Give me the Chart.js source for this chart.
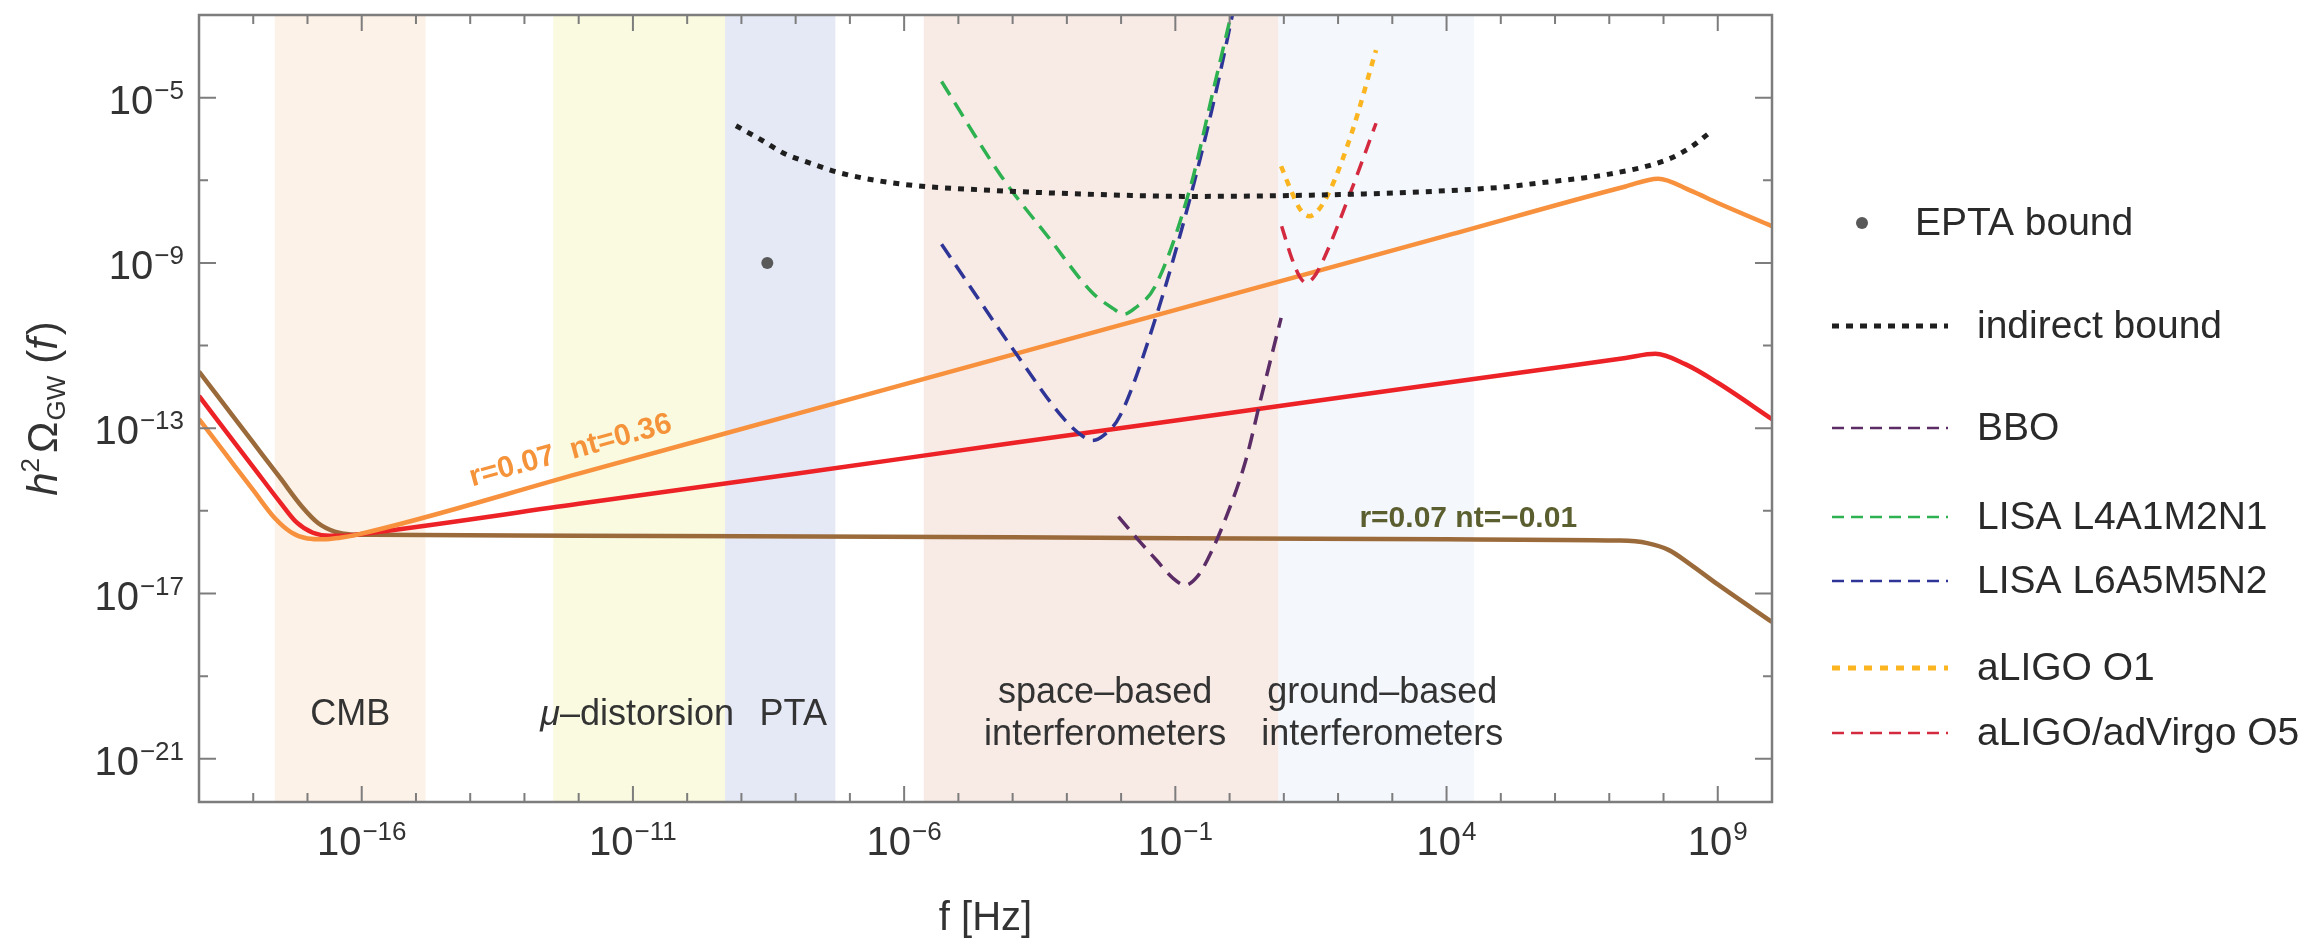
<!DOCTYPE html>
<html>
<head>
<meta charset="utf-8">
<script src="https://cdn.jsdelivr.net/npm/chart.js@4.4.1/dist/chart.umd.min.js"></script>
<style>
  body { margin: 0; background: #ffffff; }
  #wrap { width: 2310px; height: 938px; }
</style>
</head>
<body>
<div id="wrap"><canvas id="chartGW" width="2310" height="938"></canvas></div>
<script>
// ================================
// DATOS (log10 f [Hz], log10 h^2 Omega_GW)
// ================================

// r=0.07 nt=0.36 (naranja)
const logfOrange     = [-19, -18.5, -18, -17.6, -17.3, -17.0, -16.7, -16.4, -16.1, -12, -8, -4, 0, 4, 7.3, 7.9, 8.5, 9, 10];
const logOmegaOrange = [-12.78, -13.64, -14.5, -15.18, -15.52, -15.67, -15.69, -15.65, -15.58, -14.1, -12.66, -11.22, -9.78, -8.34, -7.15, -6.96, -7.25, -7.55, -8.11];

// rojo
const logfRed     = [-19, -18.5, -18, -17.5, -17.2, -16.9, -16.6, -16.3, -16.0, -12, -8, -4, 0, 4, 7.3, 7.85, 8.4, 9, 10];
const logOmegaRed = [-12.22, -13.08, -13.94, -14.8, -15.28, -15.53, -15.6, -15.6, -15.56, -14.83, -14.1, -13.36, -12.63, -11.9, -11.3, -11.2, -11.45, -11.9, -12.78];

// r=0.07 nt=-0.01 (marron)
const logfBrown     = [-19, -18.5, -18, -17.5, -17.1, -16.8, -16.5, -16.2, -15.8, -12, -4, 4, 7.2, 7.7, 8.1, 8.5, 9, 10];
const logOmegaBrown = [-11.63, -12.49, -13.35, -14.21, -14.9, -15.3, -15.5, -15.57, -15.58, -15.6, -15.64, -15.69, -15.72, -15.78, -15.95, -16.3, -16.78, -17.69];

// indirect bound
const logfIndirect     = [-9.1, -8.6, -8.23, -7.7, -7.19, -6, -4.6, -2, -0.72, 1.5, 3.15, 5.0, 5.74, 7.0, 8.07, 8.5, 8.84];
const logOmegaIndirect = [-5.68, -6.05, -6.34, -6.6, -6.82, -7.1, -7.23, -7.36, -7.39, -7.36, -7.3, -7.17, -7.06, -6.85, -6.5, -6.2, -5.86];

// BBO
const logfBBO     = [-2.05, -1.7, -1.35, -1.05, -0.82, -0.6, -0.41, -0.06, 0.3, 0.57, 0.95];
const logOmegaBBO = [-15.14, -15.68, -16.19, -16.62, -16.8, -16.6, -16.19, -15.14, -13.77, -12.32, -10.33];

// LISA L4A1M2N1
const logfLisa1     = [-5.31, -4.21, -3.31, -2.53, -2.15, -1.95, -1.75, -1.37, -0.72, -0.27, 0.1];
const logOmegaLisa1 = [-4.61, -6.9, -8.43, -9.72, -10.1, -10.24, -10.1, -9.56, -7.15, -4.65, -2.6];

// LISA L6A5M5N2
const logfLisa2     = [-5.31, -3.95, -3.05, -2.7, -2.53, -2.3, -2.02, -1.37, -0.72, -0.27, 0.1];
const logOmegaLisa2 = [-8.55, -11.17, -12.78, -13.2, -13.3, -13.15, -12.7, -10.36, -7.39, -4.97, -2.7];

// aLIGO O1
const logfO1     = [0.95, 1.15, 1.3, 1.47, 1.65, 1.86, 2.25, 2.7];
const logOmegaO1 = [-6.66, -7.3, -7.7, -7.87, -7.7, -7.22, -5.86, -3.85];

// aLIGO/adVirgo O5
const logfO5     = [0.96, 1.15, 1.3, 1.41, 1.55, 1.73, 2.25, 2.7];
const logOmegaO5 = [-8.11, -8.9, -9.35, -9.48, -9.35, -8.92, -7.22, -5.62];

// EPTA bound
const eptaF     = [3e-9];
const eptaOmega = [1e-9];

// bandas de frecuencia [Hz]
const bandNames = [["CMB"], ["\u03bc\u2013distorsion"], ["PTA"], ["space\u2013based", "interferometers"], ["ground\u2013based", "interferometers"]];
const bandFrom  = [2.5e-18, 3.4e-13, 5e-10, 2.3e-6, 8];
const bandTo    = [1.5e-15, 5e-10, 5.4e-8, 8, 3.2e4];
const bandColors = ["#fdf2e7", "#fafae0", "#e5e9f5", "#f8ebe6", "#f4f8fd"];
const bandLabelDx = [0, -2, 13, 4, 6];   // desplazamiento del texto (px)

// marcas de los ejes (exponentes)
const xTickExps = [-16, -11, -6, -1, 4, 9];
const yTickExps = [-5, -9, -13, -17, -21];

const FONT = '"Liberation Sans", Arial, sans-serif';

function pts(lf, lo) {
    return lf.map((v, i) => ({ x: Math.pow(10, v), y: Math.pow(10, lo[i]) }));
}

// texto con trozos de distinta fuente (superindices, subindices)
function drawRich(ctx, parts, x, y, align) {
    let w = 0;
    parts.forEach(p => { ctx.font = p.font; p.w = ctx.measureText(p.text).width; w += p.w + (p.gap || 0); });
    let cx = align === "right" ? x - w : align === "center" ? x - w / 2 : x;
    ctx.textAlign = "left";
    parts.forEach(p => {
        ctx.font = p.font;
        ctx.fillText(p.text, cx, y + (p.dy || 0));
        cx += p.w + (p.gap || 0);
    });
}

function powParts(exp) {
    const sup = exp < 0 ? "\u2212" + Math.abs(exp) : String(exp);
    return [
        { text: "10", font: "40px " + FONT, gap: 1 },
        { text: sup, font: "26px " + FONT, dy: -15 }
    ];
}

// estilo de las lineas de la leyenda
const legendRows = [
    { label: "EPTA bound", y: 223 },
    { label: "indirect bound", y: 326, width: 5, dash: [7, 7] },
    { label: "BBO", y: 428, width: 2.5, dash: [12, 7] },
    { label: "LISA L4A1M2N1", y: 517, width: 2.5, dash: [12, 7] },
    { label: "LISA L6A5M5N2", y: 581, width: 2.5, dash: [12, 7] },
    { label: "aLIGO O1", y: 668, width: 5, dash: [8, 8] },
    { label: "aLIGO/adVirgo O5", y: 733, width: 2.5, dash: [12, 7] }
];

// ================================
// PLUGIN: bandas, marco, ejes y leyenda
// ================================
const gwDecor = {
    id: "gwDecor",
    beforeDatasetsDraw(chart) {
        const { ctx, chartArea: a, scales: { x } } = chart;
        ctx.save();
        bandFrom.forEach((f0, i) => {
            const x0 = x.getPixelForValue(f0), x1 = x.getPixelForValue(bandTo[i]);
            ctx.fillStyle = bandColors[i];
            ctx.fillRect(x0, a.top, x1 - x0, a.bottom - a.top);
        });
        ctx.fillStyle = "#333333";
        ctx.textBaseline = "alphabetic";
        bandNames.forEach((lines, i) => {
            const cx = (x.getPixelForValue(bandFrom[i]) + x.getPixelForValue(bandTo[i])) / 2 + bandLabelDx[i];
            const base = lines.length === 1 ? [a.bottom - 77] : [a.bottom - 99, a.bottom - 57];
            lines.forEach((t, k) => {
                if (t.startsWith("\u03bc")) {
                    drawRich(ctx, [
                        { text: "\u03bc", font: "italic 36px " + FONT },
                        { text: t.slice(1), font: "36px " + FONT }
                    ], cx, base[k], "center");
                } else {
                    drawRich(ctx, [{ text: t, font: "36px " + FONT }], cx, base[k], "center");
                }
            });
        });
        ctx.restore();
    },
    afterDatasetsDraw(chart) {
        const { ctx, chartArea: a, scales: { x, y } } = chart;
        ctx.save();

        // marco
        ctx.strokeStyle = "#7d7d7d";
        ctx.lineWidth = 2.5;
        ctx.strokeRect(a.left, a.top, a.right - a.left, a.bottom - a.top);

        // marcas hacia dentro
        ctx.lineWidth = 2;
        ctx.beginPath();
        for (let e = -18; e <= 9; e++) {
            const px = x.getPixelForValue(Math.pow(10, e));
            const len = xTickExps.includes(e) ? 16 : 9;
            ctx.moveTo(px, a.bottom); ctx.lineTo(px, a.bottom - len);
            ctx.moveTo(px, a.top); ctx.lineTo(px, a.top + len);
        }
        for (let e = -21; e <= -5; e += 2) {
            const py = y.getPixelForValue(Math.pow(10, e));
            const len = yTickExps.includes(e) ? 17 : 9;
            ctx.moveTo(a.left, py); ctx.lineTo(a.left + len, py);
            ctx.moveTo(a.right, py); ctx.lineTo(a.right - len, py);
        }
        ctx.stroke();

        // etiquetas de las marcas
        ctx.fillStyle = "#333333";
        ctx.textBaseline = "alphabetic";
        xTickExps.forEach(e => {
            drawRich(ctx, powParts(e), x.getPixelForValue(Math.pow(10, e)), a.bottom + 53, "center");
        });
        yTickExps.forEach(e => {
            drawRich(ctx, powParts(e), a.left - 15, y.getPixelForValue(Math.pow(10, e)) + 16, "right");
        });

        // titulos de los ejes
        drawRich(ctx, [{ text: "f [Hz]", font: "40px " + FONT }], (a.left + a.right) / 2, a.bottom + 128, "center");
        ctx.save();
        ctx.translate(57, (a.top + a.bottom) / 2);
        ctx.rotate(-Math.PI / 2);
        drawRich(ctx, [
            { text: "h", font: "italic 42px " + FONT },
            { text: "2", font: "26px " + FONT, dy: -18, gap: 5 },
            { text: "\u03a9", font: "42px " + FONT, gap: 1 },
            { text: "GW", font: "26px " + FONT, dy: 8, gap: 12 },
            { text: "(", font: "42px " + FONT },
            { text: "f", font: "italic 42px " + FONT, gap: 3 },
            { text: ")", font: "42px " + FONT }
        ], 0, 0, "center");
        ctx.restore();

        // etiquetas de las curvas
        const i0 = logfOrange.indexOf(-12), i1 = logfOrange.indexOf(4);
        const ang = Math.atan2(
            y.getPixelForValue(Math.pow(10, logOmegaOrange[i1])) - y.getPixelForValue(Math.pow(10, logOmegaOrange[i0])),
            x.getPixelForValue(Math.pow(10, logfOrange[i1])) - x.getPixelForValue(Math.pow(10, logfOrange[i0])));
        ctx.save();
        ctx.translate(x.getPixelForValue(Math.pow(10, -12.15)), y.getPixelForValue(Math.pow(10, -13.55)));
        ctx.rotate(ang);
        ctx.fillStyle = "#f5933a";
        ctx.textBaseline = "middle";
        drawRich(ctx, [{ text: "r=0.07  nt=0.36", font: "bold 30px " + FONT }], 0, 0, "center");
        ctx.restore();

        ctx.fillStyle = "#5b5e2e";
        ctx.textBaseline = "middle";
        drawRich(ctx, [{ text: "r=0.07 nt=\u22120.01", font: "bold 30px " + FONT }],
            x.getPixelForValue(Math.pow(10, 4.4)), y.getPixelForValue(Math.pow(10, -15.2)), "center");

        ctx.restore();
    },
    afterDraw(chart) {
        const { ctx } = chart;
        ctx.save();
        ctx.textBaseline = "middle";
        legendRows.forEach(row => {
            const ds = chart.data.datasets.find(d => d.label === row.label);
            if (!row.dash) {
                ctx.fillStyle = ds.pointBackgroundColor;
                ctx.beginPath();
                ctx.arc(1862, row.y, 6, 0, Math.PI * 2);
                ctx.fill();
                ctx.fillStyle = "#2a2a2a";
                drawRich(ctx, [{ text: row.label, font: "39px " + FONT }], 1915, row.y + 1, "left");
                return;
            }
            ctx.strokeStyle = ds.borderColor;
            ctx.lineWidth = row.width;
            ctx.setLineDash(row.dash);
            ctx.beginPath();
            ctx.moveTo(1832, row.y);
            ctx.lineTo(1948, row.y);
            ctx.stroke();
            ctx.setLineDash([]);
            ctx.fillStyle = "#2a2a2a";
            drawRich(ctx, [{ text: row.label, font: "39px " + FONT }], 1977, row.y + 1, "left");
        });
        ctx.restore();
    }
};

// ================================
// GRAFICO
// ================================
const curva = (label, lf, lo, color, width, dash) => ({
    label: label,
    data: pts(lf, lo),
    borderColor: color,
    borderWidth: width,
    borderDash: dash || [],
    pointRadius: 0,
    fill: false,
    cubicInterpolationMode: "monotone"
});

new Chart(document.getElementById("chartGW"), {
    type: "line",
    data: {
        datasets: [
            {
                label: "EPTA bound",
                data: [{ x: eptaF[0], y: eptaOmega[0] }],
                showLine: false,
                pointRadius: 6,
                pointBackgroundColor: "#595959",
                pointBorderWidth: 0
            },
            curva("indirect bound", logfIndirect, logOmegaIndirect, "#1f1f1f", 5, [6, 7]),
            curva("BBO", logfBBO, logOmegaBBO, "#5b2c66", 3.5, [16, 9]),
            curva("LISA L4A1M2N1", logfLisa1, logOmegaLisa1, "#2eb150", 3.5, [16, 9]),
            curva("LISA L6A5M5N2", logfLisa2, logOmegaLisa2, "#2f3596", 3.5, [16, 9]),
            curva("aLIGO O1", logfO1, logOmegaO1, "#fbb520", 4.5, [7, 7]),
            curva("aLIGO/adVirgo O5", logfO5, logOmegaO5, "#d42a40", 3.5, [14, 9]),
            curva("r=0.07 nt=0.36", logfOrange, logOmegaOrange, "#f7913d", 4.5),
            curva("r=0.07 nt=0.18", logfRed, logOmegaRed, "#ec2227", 4.5),
            curva("r=0.07 nt=-0.01", logfBrown, logOmegaBrown, "#9b6a3b", 4.5)
        ]
    },
    options: {
        responsive: false,
        animation: false,
        devicePixelRatio: 1,
        layout: { padding: { left: 199, right: 538, top: 15, bottom: 136 } },
        scales: {
            x: { type: "logarithmic", min: 1e-19, max: 1e10, display: false },
            y: { type: "logarithmic", min: 9e-23, max: 1e-3, display: false }
        },
        plugins: {
            legend: { display: false },
            tooltip: { enabled: false }
        }
    },
    plugins: [gwDecor]
});
</script>
</body>
</html>
